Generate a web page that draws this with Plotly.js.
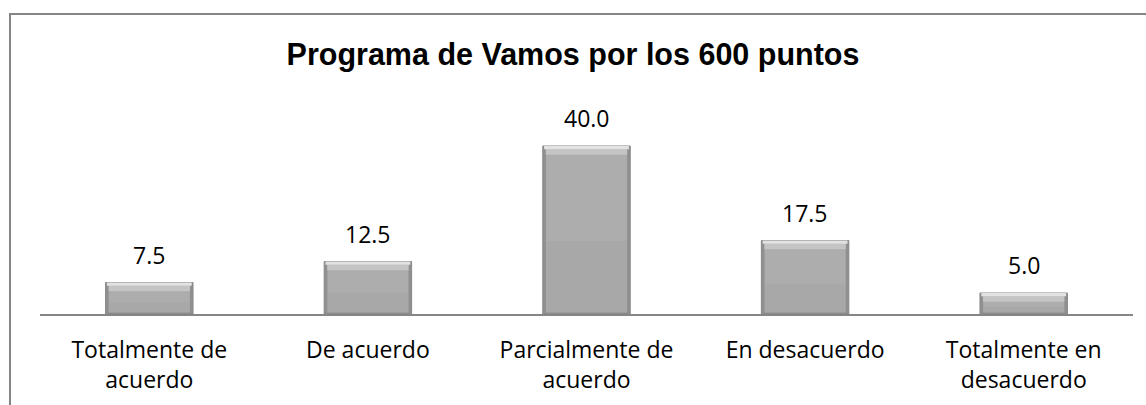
<!DOCTYPE html>
<html>
<head>
<meta charset="utf-8">
<script src="https://cdn.plot.ly/plotly-3.0.1.min.js"></script>
<style>
  html, body { margin: 0; padding: 0; background: #ffffff; overflow: hidden; width: 1146px; height: 405px; }
  #chart { width: 1146px; height: 405px; }
</style>
</head>
<body>
<div id="chart"></div>
<script>
// ---- Data ----
const categories = [
  "Totalmente de<br>acuerdo",
  "De acuerdo",
  "Parcialmente de<br>acuerdo",
  "En desacuerdo",
  "Totalmente en<br>desacuerdo"
];
const values = [7.5, 12.5, 40.0, 17.5, 5.0];
const chartTitle = "Programa de Vamos por los 600 puntos";

// ---- Styling (bevel look built in layers from the data values) ----
const labelFont = "'Open Sans', 'Noto Sans', sans-serif";
const barWidth = 0.4;
const innerWidth = 0.372;

function layer(yVals, baseVals, width, color) {
  const t = {
    type: "bar", x: categories, y: yVals, width: width,
    marker: { color: color, line: { width: 0 } },
    hoverinfo: "skip", showlegend: false, cliponaxis: false
  };
  if (baseVals) t.base = baseVals;
  return t;
}

const outer = {
  type: "bar", x: categories, y: values, width: barWidth,
  marker: { color: "#909090", line: { color: "#878787", width: 1 } },
  hoverinfo: "skip", showlegend: false
};
const body = layer(values.map(v => v - 0.8), values.map(() => 0.35), innerWidth, "#a8a8a8");
const upperBody = layer(values.map(v => (v - 2.1) * 0.55), values.map(v => 0.35 + (v - 2.1) * 0.45), innerWidth - 0.006, "#adadad");
const topBand2 = layer(values.map(() => 1.3), values.map(v => v - 2.1), innerWidth, "#c4c4c4");
const topBand1 = layer(values.map(() => 0.8), values.map(v => v - 0.8), barWidth - 0.012, "#e2e2e2");

const annotations = categories.map((c, i) => ({
  x: c, y: values[i], xref: "x", yref: "y",
  text: values[i].toFixed(1),
  showarrow: false, yanchor: "middle", yshift: 28,
  font: { family: labelFont, size: 23, color: "#000000" }
}));

const layout = {
  width: 1146, height: 405,
  margin: { l: 40, r: 13, t: 100, b: 91 },
  paper_bgcolor: "#ffffff", plot_bgcolor: "#ffffff",
  barmode: "overlay",
  title: {
    text: chartTitle,
    font: { family: "'Liberation Sans', Arial, sans-serif", size: 30.5, color: "#000000", weight: "bold" },
    x: 0.5, xref: "container", xanchor: "center",
    y: 1 - 54 / 405, yref: "container", yanchor: "middle"
  },
  xaxis: {
    type: "category",
    showline: true, linecolor: "#868686", linewidth: 2,
    showgrid: false, zeroline: false, ticks: "",
    tickfont: { family: labelFont, size: 23, color: "#000000" },
    ticklabelstandoff: 14,
    fixedrange: true
  },
  yaxis: {
    range: [0, 214 / 4.2], visible: false, showgrid: false, zeroline: false, fixedrange: true
  },
  annotations: annotations,
  shapes: [
    { type: "line", xref: "paper", yref: "paper",
      x0: -31 / 1093, x1: 1.02, y0: 300 / 214, y1: 300 / 214,
      line: { color: "#868686", width: 2 }, layer: "below" },
    { type: "line", xref: "paper", yref: "paper",
      x0: -30 / 1093, x1: -30 / 1093, y0: 301 / 214, y1: -0.45,
      line: { color: "#868686", width: 2 }, layer: "below" }
  ]
};

Plotly.newPlot("chart", [outer, body, upperBody, topBand2, topBand1], layout, { displayModeBar: false, staticPlot: true });
</script>
</body>
</html>
